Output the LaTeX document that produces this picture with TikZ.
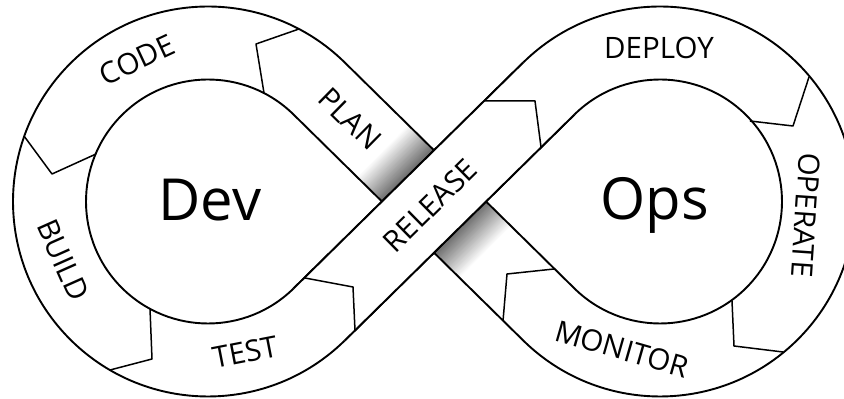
\documentclass[tikz,border=0pt]{standalone}
\usepackage{fontspec}
\setmainfont{Open Sans}
\usetikzlibrary{calc}
\begin{document}
\begin{tikzpicture}[x=1pt,y=1pt,line join=round,
  edge/.style={line width=1.9pt},
  notch/.style={line width=1.5pt},
  lbl/.style={font=\fontsize{29.5}{31}\selectfont,inner sep=0pt},
  big/.style={font=\fontsize{58}{60}\selectfont,inner sep=0pt}]
\useasboundingbox (0,0) rectangle (844,399);
\clip (0,0) rectangle (844,399);
% outer / inner radii and tangent angle of the figure eight
\def\R{195}\def\r{122}\def\al{45.46}
\coordinate (CL) at (208,197.5);
\coordinate (CR) at (660,197.5);
\coordinate (M) at (434,197.5);

% shadow on the band that passes under the crossing
\begin{scope}[shift={(M)},rotate=-44.54]
  \foreach \k in {0,...,40}{
    \pgfmathsetmacro\g{58*\k/40}
    \fill[black!\g] ({-72.5+36*\k/40},-36.5) rectangle (-30,36.5);
    \fill[black!\g] ({72.5-36*\k/40},-36.5) rectangle (30,36.5);
  }
\end{scope}

% the two closed outlines of the loop
\draw[edge] ($(CL)+(\al:\R)$) arc[start angle=\al,end angle=360-\al,radius=\R]
  -- ($(CR)+(180-\al:\r)$) arc[start angle=180-\al,end angle=-180+\al,radius=\r] -- cycle;
\draw[edge] ($(CL)+(\al:\r)$) arc[start angle=\al,end angle=360-\al,radius=\r]
  -- ($(CR)+(180-\al:\R)$) arc[start angle=180-\al,end angle=-180+\al,radius=\R] -- cycle;

% straight band on top at the crossing
\fill[white] ($(CL)+(-\al:\R)$) -- ($(CR)+(180-\al:\r)$) -- ($(CR)+(180-\al:\R)$) -- ($(CL)+(-\al:\r)$) -- cycle;
\draw[edge] ($(CL)+(-\al:\R)$) -- ($(CR)+(180-\al:\r)$);
\draw[edge] ($(CL)+(-\al:\r)$) -- ($(CR)+(180-\al:\R)$);

% arrow-shaped separators between the stages
\draw[notch] (299,370) -- (256,355) -- (264,306);
\draw[notch] (24,263) -- (52,225) -- (96,245);
\draw[notch] (110,29) -- (152,40) -- (150,90);
\draw[notch] (355,68.5) -- (353,112) -- (305,121);
\draw[notch] (484,298) -- (535,298) -- (541,252);
\draw[notch] (809,322) -- (793,273) -- (750,278);
\draw[notch] (783,47) -- (734,53) -- (732,98);
\draw[notch] (503,78) -- (507,125) -- (554,130);

% stage labels
\node[lbl,rotate=25]     (code)    at (137,339) {CODE};
\node[lbl,rotate=-44.54] (plan)    at (350,280) {PLAN};
\node[lbl,rotate=44.54]  (release) at (430,193.5) {RELEASE};
\node[lbl]               (deploy)  at (659,351) {DEPLOY};
\node[lbl,rotate=-94]    (operate) at (806,184) {OPERATE};
\node[lbl,rotate=-16]    (monitor) at (622,50) {MONITOR};
\node[lbl,rotate=11]     (test)    at (245,47) {TEST};
\node[lbl,rotate=-66]    (build)   at (63,139) {BUILD};

% centre words
\node[big,anchor=base] (dev) at (210,178) {Dev};
\node[big,anchor=base] (ops) at (655,179) {Ops};
\end{tikzpicture}
\end{document}
